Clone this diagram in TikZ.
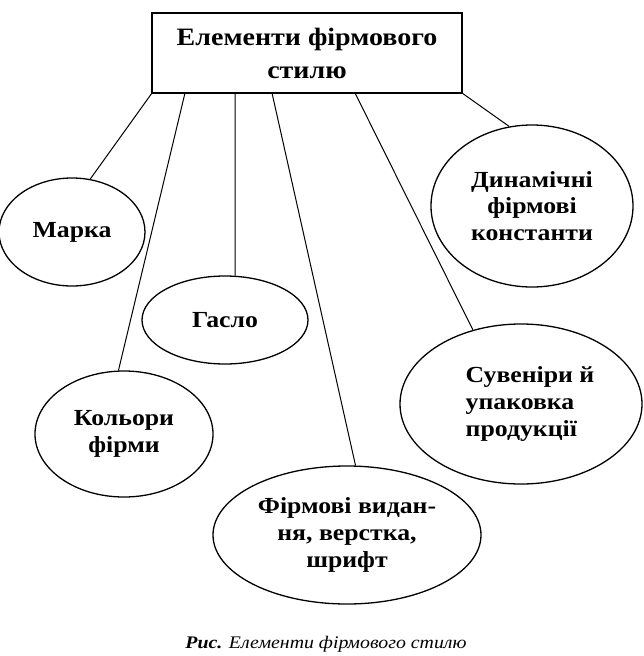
\documentclass[tikz,border=0pt]{standalone}
\usepackage{fontspec}
\setmainfont{Liberation Serif}[FakeStretch=1.12]
\usetikzlibrary{shapes.geometric}
\tikzset{
  oval/.style={ellipse, draw, line width=1.3pt, inner sep=0pt, align=center,
    font=\bfseries\fontsize{23}{26.7}\selectfont},
  conn/.style={line width=1pt},
  titlebox/.style={draw, line width=1.8pt, inner sep=0pt, align=center,
    font=\bfseries\fontsize{25}{33}\selectfont}
}
\begin{document}
\begin{tikzpicture}[x=1pt,y=-1pt]
\useasboundingbox (0,0) rectangle (643,656);
\node[titlebox, minimum width=310pt, minimum height=80pt] (box) at (307,53) {Елементи фірмового\\стилю};
\node[oval, minimum width=146pt, minimum height=108pt] (marka) at (72,232) {Марка};
\node[oval, minimum width=166pt, minimum height=88pt] (gaslo) at (225,320) {Гасло};
\node[oval, minimum width=178pt, minimum height=126pt] (kol) at (124,434) {Кольори\\фірми};
\node[oval, minimum width=268pt, minimum height=138pt] (fir) at (347,535) {Фірмові видан-\\ня, верстка,\\шрифт};
\node[oval, minimum width=242pt, minimum height=160pt, align=left] (suv) at (521,404) {\hspace*{18pt}Сувеніри й\\\hspace*{18pt}упаковка\\\hspace*{18pt}продукції};
\node[oval, minimum width=202pt, minimum height=162pt] (din) at (532,206) {Динамічні\\фірмові\\константи};
\node[font=\fontsize{17.7}{21}\selectfont, anchor=base] (cap) at (326,648) {\textbf{\textit{Рис.}} \textit{Елементи фірмового стилю}};
\coordinate (t1) at (152,93);
\coordinate (t2) at (185,93);
\coordinate (t3) at (235,93);
\coordinate (t4) at (272,93);
\coordinate (t5) at (355,93);
\coordinate (t6) at (462,93);
\draw[conn] (t1) -- (marka.71);
\draw[conn] (t2) -- (kol.95);
\draw[conn] (t3) -- (gaslo.77);
\draw[conn] (t4) -- (fir.83);
\draw[conn] (t5) -- (suv.123);
\draw[conn] (t6) -- (din.106);
\end{tikzpicture}
\end{document}
